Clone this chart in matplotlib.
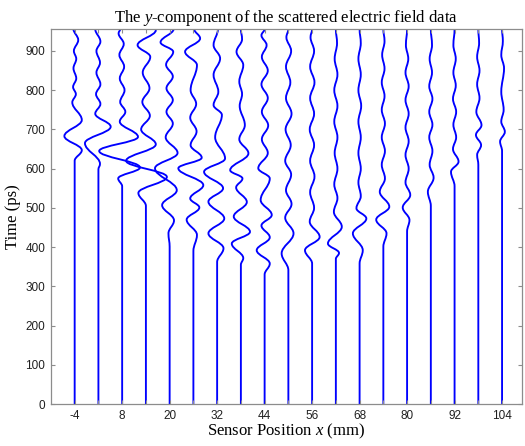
import matplotlib
matplotlib.use("Agg")
import matplotlib.pyplot as plt
from matplotlib.path import Path
from matplotlib.patches import PathPatch

plt.rcParams['font.family'] = 'Liberation Serif'
plt.rcParams['mathtext.fontset'] = 'custom'
plt.rcParams['mathtext.rm'] = 'Liberation Serif'
plt.rcParams['mathtext.it'] = 'Liberation Serif:italic'

# sensor positions (mm)
sensor_x = [-4, 2, 8, 14, 20, 26, 32, 38, 44, 50, 56, 62, 68, 74, 80, 86, 92, 98, 104]

# turning points of each trace: (time ps, field offset drawn in mm)
tr_m4 = [(0, 0), (620, 0), (647, 1.8), (683, -2.6), (724, 1.8), (769, -0.6), (790, 0.3), (808, -0.4),
         (830, 0.4), (856, -0.3), (880, 0.4), (900, -0.2), (928, 0.9), (956, -0.3)]
tr_2 = [(0, 0), (598, 0), (612, 0.4), (665, -3.4), (707, 3.1), (740, -0.8), (765, 0.5), (790, -0.6),
        (815, 0.5), (845, -0.5), (870, 0.4), (900, -0.5), (924, 0.5), (956, -0.8)]
tr_8 = [(0, 0), (555, 0), (575, -1.0), (603, 4.5), (645, -5.8), (681, 4.0), (720, -0.6), (745, 0.8),
        (770, -0.5), (800, 0.6), (830, -0.6), (860, 0.5), (890, -0.7), (918, 0.4), (945, -0.9), (956, -0.5)]
tr_14 = [(0, 0), (505, 0), (538, -1.9), (579, 5.3), (620, -5.0), (662, 2.5), (700, -1.2), (735, 1.0),
         (770, -0.9), (805, 0.9), (845, -0.8), (885, 1.1), (915, -2.1), (953, 2.5), (956, 2.4)]
tr_20 = [(0, 0), (401, 0), (435, -0.3), (468, 1.1), (507, -1.9), (545, 1.8), (601, -3.7), (640, 2.0),
         (680, -1.0), (715, 0.8), (745, -0.8), (775, 0.8), (805, -0.8), (835, 0.8), (865, -0.9),
         (898, 0.9), (922, -2.3), (956, 1.0)]
tr_26 = [(0, 0), (390, 0), (431, 0.9), (470, -1.7), (501, 1.5), (524, -0.8), (558, 2.5), (601, -3.8),
         (628, 2.1), (660, -0.7), (695, 0.8), (730, -0.8), (765, 0.7), (800, -0.7), (864, 0.9),
         (898, -2.1), (932, 1.7), (956, 0.2)]
tr_32 = [(0, 0), (362, 0), (397, 1.6), (435, -2.2), (473, 1.8), (516, -2.2), (550, 1.5), (592, -3.3),
         (626, 2.0), (680, -0.5), (737, 1.2), (762, -0.9), (796, 0.3), (839, -0.9), (881, 0.75),
         (915, -0.9), (956, 0.2)]
tr_38 = [(0, 0), (355, 0), (372, 0.6), (409, -2.3), (439, 2.3), (478, -1.8), (515, 1.5), (552, -1.2),
         (575, 0.4), (596, -2.7), (639, 1.9), (675, -0.4), (711, 1.0), (760, -0.3), (790, 0.3),
         (822, -0.4), (864, 0.6), (898, -1.1), (930, 0.3), (956, 0)]
tr_44 = [(0, 0), (330, 0), (358, 1.3), (392, -2.0), (425, 1.3), (455, -0.8), (482, 1.8), (520, -1.0),
         (575, 1.3), (601, -1.6), (640, 0.8), (675, -0.7), (710, 0.9), (745, -0.7), (780, 0.8),
         (815, -0.8), (850, 0.8), (885, -0.7), (915, 0.5), (940, -0.8), (956, 0)]
tr_50 = [(0, 0), (341, 0), (384, -1.7), (435, 1.3), (475, -0.8), (510, 0.8), (545, -0.6), (585, 0.7),
         (620, -0.8), (660, 0.6), (700, -0.7), (740, 0.8), (780, -0.6), (820, 0.5), (860, -0.6),
         (900, 0.7), (935, -0.5), (956, 0)]
tr_56 = [(0, 0), (358, 0), (392, -1.8), (426, 1.9), (465, -0.6), (500, 0.5), (540, -0.5), (580, 0.6),
         (620, -0.5), (660, 0.5), (700, -0.6), (740, 0.5), (780, -0.5), (820, 0.6), (860, -0.5),
         (900, 0.5), (935, -0.4), (956, 0)]
tr_62 = [(0, 0), (370, 0), (385, 0.8), (409, -2.0), (452, 1.5), (490, -0.5), (525, 0.4), (560, -0.4),
         (600, 0.4), (640, -0.3), (680, 0.4), (720, -0.4), (760, 0.4), (800, -0.4), (840, 0.4),
         (880, -0.3), (920, 0.3), (956, 0)]
tr_68 = [(0, 0), (358, 0), (392, 0.8), (435, -1.7), (473, 1.7), (499, -0.8), (530, 0.3), (565, -0.3),
         (600, 0.3), (640, -0.3), (680, 0.3), (720, -0.3), (760, 0.4), (800, -0.3), (840, 0.3),
         (880, -0.3), (920, 0.3), (956, 0)]
tr_74 = [(0, 0), (401, 0), (435, 0.8), (470, -1.8), (503, 1.5), (541, -0.9), (575, 0.4), (610, -0.4),
         (645, 0.4), (680, -0.4), (715, 0.4), (750, -0.4), (785, 0.3), (820, -0.4), (855, 0.3),
         (890, -0.3), (925, 0.3), (956, 0)]
tr_80 = [(0, 0), (440, 0), (469, 0.6), (501, -1.1), (533, 0.8), (565, -0.4), (600, 0.4), (635, -0.4),
         (670, 0.4), (705, -0.4), (740, 0.4), (775, -0.4), (810, 0.4), (845, -0.4), (880, 0.3),
         (915, -0.3), (956, 0)]
tr_86 = [(0, 0), (505, 0), (541, -0.75), (577, 0.7), (610, -0.3), (645, 0.4), (680, -0.4), (712, 0.4),
         (745, -0.4), (778, 0.4), (810, -0.4), (845, 0.3), (880, -0.3), (915, 0.3), (956, 0)]
tr_92 = [(0, 0), (555, 0), (592, -0.9), (618, 1.0), (650, -0.4), (680, 0.4), (712, -0.3), (745, 0.4),
         (778, -0.4), (812, 0.3), (845, -0.3), (880, 0.3), (915, -0.3), (956, 0)]
tr_98 = [(0, 0), (610, 0), (635, -0.3), (660, 0.7), (686, -0.6), (711, 0.8), (745, -0.5), (780, 0.3),
         (815, -0.3), (850, 0.3), (885, -0.3), (920, 0.2), (956, 0)]
tr_104 = [(0, 0), (645, 0), (669, -0.5), (694, 0.7), (720, -0.2), (750, 0.4), (796, -0.2), (856, 0.5),
          (890, -0.2), (925, 0.2), (956, 0)]

traces = [tr_m4, tr_2, tr_8, tr_14, tr_20, tr_26, tr_32, tr_38, tr_44, tr_50,
          tr_56, tr_62, tr_68, tr_74, tr_80, tr_86, tr_92, tr_98, tr_104]

x_ticks = sensor_x
x_tick_labels = [str(v) if i % 2 == 0 else '' for i, v in enumerate(sensor_x)]
y_ticks = [0, 100, 200, 300, 400, 500, 600, 700, 800, 900]


def trace_path(x0, pts, k=0.38):
    # smooth wiggle: vertical tangent at every turning point
    verts = [(x0 + pts[0][1], pts[0][0])]
    codes = [Path.MOVETO]
    for (t1, d1), (t2, d2) in zip(pts[:-1], pts[1:]):
        h = (t2 - t1) * k
        verts += [(x0 + d1, t1 + h), (x0 + d2, t2 - h), (x0 + d2, t2)]
        codes += [Path.CURVE4] * 3
    return Path(verts, codes)


fig = plt.figure(figsize=(5.25, 4.46), dpi=100)
ax = fig.add_axes([0.097, 0.094, 0.897, 0.841])

for x0, pts in zip(sensor_x, traces):
    ax.add_patch(PathPatch(trace_path(x0, pts), fill=False, edgecolor='#0000ff',
                           linewidth=1.35, capstyle='round', joinstyle='round'))

ax.set_xlim(-10, 109)
ax.set_ylim(0, 956)
ax.set_xticks(x_ticks, labels=x_tick_labels)
ax.set_yticks(y_ticks)

grey = '#8c8c8c'
for s in ax.spines.values():
    s.set_color(grey)
    s.set_linewidth(0.9)
ax.tick_params(direction='in', length=3, width=0.8, color=grey, top=True, right=True,
               labelsize=8.5, labelcolor='#202020', pad=4)
for lab in ax.get_xticklabels() + ax.get_yticklabels():
    lab.set_fontfamily('Liberation Sans')

ax.set_title('The $y$-component of the scattered electric field data', fontsize=12, pad=5)
ax.set_xlabel('Sensor Position $x$ (mm)', fontsize=12, labelpad=0)
ax.set_ylabel('Time (ps)', fontsize=12, labelpad=3)

fig.savefig('out.png', dpi=100)
